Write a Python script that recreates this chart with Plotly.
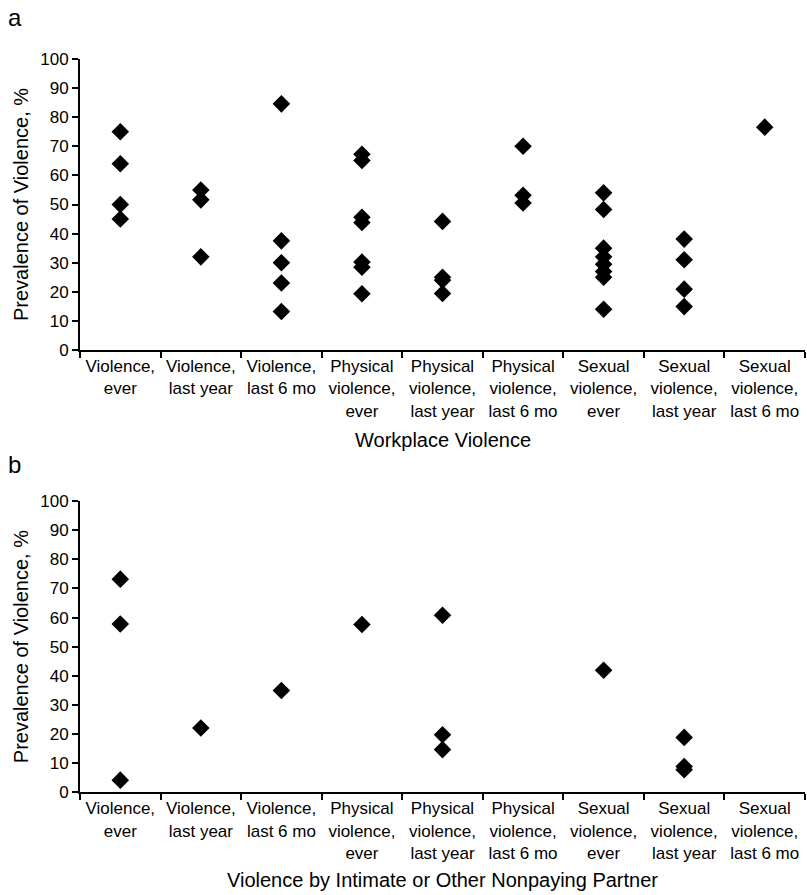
import plotly.graph_objects as go

categories = ["Violence,<br>ever", "Violence,<br>last year", "Violence,<br>last 6 mo",
              "Physical<br>violence,<br>ever", "Physical<br>violence,<br>last year",
              "Physical<br>violence,<br>last 6 mo", "Sexual<br>violence,<br>ever",
              "Sexual<br>violence,<br>last year", "Sexual<br>violence,<br>last 6 mo"]

workplace = [[75, 64, 50, 45],
             [55, 51.6, 32],
             [84.6, 37.5, 30, 23, 13.2],
             [67.3, 65.1, 45.6, 43.8, 30.2, 28.4, 19.3],
             [44.2, 25, 24, 19.4],
             [70, 53.2, 50.5],
             [54, 48.3, 35, 32, 29.5, 27, 25, 14],
             [38.1, 31, 20.9, 14.9],
             [76.6]]

partner = [[73.2, 57.8, 4.1],
           [22],
           [34.9],
           [57.6],
           [60.8, 19.7, 14.6],
           [],
           [41.9],
           [18.8, 8.8, 7.7],
           []]

y_ticks = list(range(0, 101, 10))
FONT = "Liberation Sans"


def flatten(groups):
    xs, ys = [], []
    for i, vals in enumerate(groups):
        for v in vals:
            xs.append(i)
            ys.append(v)
    return xs, ys


fig = go.Figure()
marker = dict(symbol="diamond", size=13.5, color="black", line=dict(width=0))
xa, ya = flatten(workplace)
fig.add_trace(go.Scatter(x=xa, y=ya, mode="markers", marker=marker, xaxis="x", yaxis="y",
                         cliponaxis=False, showlegend=False))
xb, yb = flatten(partner)
fig.add_trace(go.Scatter(x=xb, y=yb, mode="markers", marker=marker, xaxis="x2", yaxis="y2",
                         cliponaxis=False, showlegend=False))

n = len(categories)
xcommon = dict(range=[-0.5, n - 0.5], tickmode="array", tickvals=list(range(n)), ticktext=categories,
               ticks="", showline=True, linecolor="black", linewidth=2, showgrid=False, zeroline=False,
               tickfont=dict(family=FONT, size=17, color="black"),
               minor=dict(tickmode="array", tickvals=[i - 0.5 for i in range(n + 1)], ticks="outside",
                          ticklen=6, tickwidth=2, tickcolor="black", showgrid=False),
               automargin=False, fixedrange=True)
ycommon = dict(range=[0, 100], tickmode="array", tickvals=y_ticks, ticks="outside", ticklen=6,
               tickwidth=2, tickcolor="black", showline=True, linecolor="black", linewidth=2,
               showgrid=False, zeroline=False, tickfont=dict(family=FONT, size=17, color="black"),
               title=dict(text="Prevalence of Violence, %", font=dict(family=FONT, size=20, color="black"),
                          standoff=6),
               automargin=False, fixedrange=True)

fig.update_layout(
    width=807, height=895,
    margin=dict(l=80, r=2, t=0, b=0),
    paper_bgcolor="white", plot_bgcolor="white",
    xaxis=dict(xcommon, domain=[0, 1], anchor="y"),
    yaxis=dict(ycommon, domain=[0.609, 0.934], anchor="x"),
    xaxis2=dict(xcommon, domain=[0, 1], anchor="y2"),
    yaxis2=dict(ycommon, domain=[0.115, 0.440], anchor="x2"),
    annotations=[
        dict(text="a", x=-0.102, y=0.98, xref="paper", yref="paper", xanchor="left", yanchor="middle",
             showarrow=False, font=dict(family=FONT, size=24, color="black")),
        dict(text="b", x=-0.102, y=0.481, xref="paper", yref="paper", xanchor="left", yanchor="middle",
             showarrow=False, font=dict(family=FONT, size=24, color="black")),
        dict(text="Workplace Violence", x=0.5, y=0.508, xref="paper", yref="paper", xanchor="center",
             yanchor="middle", showarrow=False, font=dict(family=FONT, size=20, color="black")),
        dict(text="Violence by Intimate or Other Nonpaying Partner", x=0.5, y=0.017, xref="paper",
             yref="paper", xanchor="center", yanchor="middle", showarrow=False,
             font=dict(family=FONT, size=20, color="black")),
    ],
)

fig.write_html("out.html", config={"displayModeBar": False},
               post_script="document.body.style.margin='0';")
